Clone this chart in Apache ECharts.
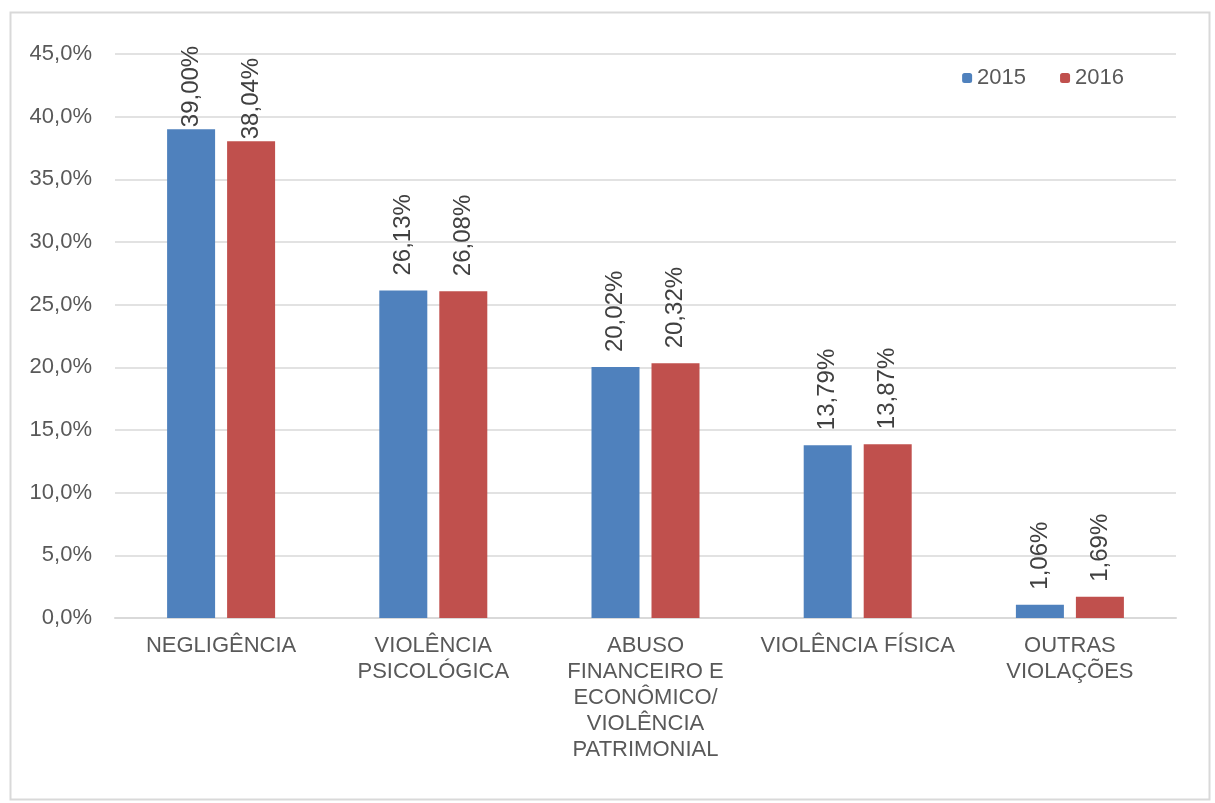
<!DOCTYPE html>
<html lang="pt">
<head>
    <meta charset="UTF-8">
    <title>Violações 2015 / 2016</title>
    <script src="https://cdn.jsdelivr.net/npm/echarts@6/dist/echarts.min.js"></script>
    <style>
        body { margin: 0; background: #fff; }
    </style>
</head>
<body>
    <div id="main" style="width: 1215px; height: 803px;"></div>
    <script type="text/javascript">
        // Chart data
        const categories = [
            'NEGLIGÊNCIA',
            'VIOLÊNCIA\nPSICOLÓGICA',
            'ABUSO\nFINANCEIRO E\nECONÔMICO/\nVIOLÊNCIA\nPATRIMONIAL',
            'VIOLÊNCIA FÍSICA',
            'OUTRAS\nVIOLAÇÕES'
        ];
        const values2015 = [39.00, 26.13, 20.02, 13.79, 1.06];
        const values2016 = [38.04, 26.08, 20.32, 13.87, 1.69];

        const fontFamily = '"Liberation Sans", Arial, sans-serif';
        const labelColor = '#595959';

        let myChart = echarts.init(document.getElementById('main'));

        const barLabel = {
            show: true,
            position: 'top',
            rotate: 90,
            align: 'left',
            verticalAlign: 'middle',
            distance: 15,
            fontSize: 24,
            fontFamily: fontFamily,
            color: '#404040',
            formatter: p => p.value.toFixed(2).replace('.', ',') + '%'
        };

        // the tallest pair sits closer to its bars (kept inside the plot)
        const toItems = vals => vals.map((v, i) => i === 0 ? { value: v, label: { distance: 2 } } : v);

        const options = {
            animation: false,
            textStyle: { fontFamily: fontFamily },
            graphic: [{
                type: 'rect',
                left: 8,
                top: 10,
                shape: { width: 1199, height: 787 },
                style: { fill: 'none', stroke: '#d9d9d9', lineWidth: 2 },
                silent: true
            }],
            legend: {
                right: 86,
                top: 62,
                itemWidth: 10,
                itemHeight: 10,
                itemGap: 34,
                textStyle: { fontSize: 22, color: labelColor, fontFamily: fontFamily },
                data: ['2015', '2016']
            },
            grid: { left: 115, right: 39, top: 54, bottom: 185 },
            xAxis: {
                type: 'category',
                data: categories,
                axisLine: { lineStyle: { color: '#d9d9d9', width: 2 } },
                axisTick: { show: false },
                axisLabel: {
                    interval: 0,
                    margin: 15,
                    fontSize: 22,
                    lineHeight: 26,
                    color: labelColor,
                    fontFamily: fontFamily
                }
            },
            yAxis: {
                type: 'value',
                min: 0,
                max: 45,
                interval: 5,
                axisLine: { show: false },
                axisTick: { show: false },
                splitLine: { lineStyle: { color: '#d9d9d9', width: 1.5 } },
                axisLabel: {
                    margin: 23,
                    fontSize: 22,
                    color: labelColor,
                    fontFamily: fontFamily,
                    formatter: v => v.toFixed(1).replace('.', ',') + '%'
                }
            },
            series: [{
                name: '2015',
                type: 'bar',
                data: toItems(values2015),
                barWidth: 48,
                barGap: '25%',
                itemStyle: { color: '#4f81bd' },
                label: barLabel
            }, {
                name: '2016',
                type: 'bar',
                data: toItems(values2016),
                barWidth: 48,
                barGap: '25%',
                itemStyle: { color: '#c0504d' },
                label: barLabel
            }]
        };

        myChart.setOption(options);
    </script>
</body>
</html>
